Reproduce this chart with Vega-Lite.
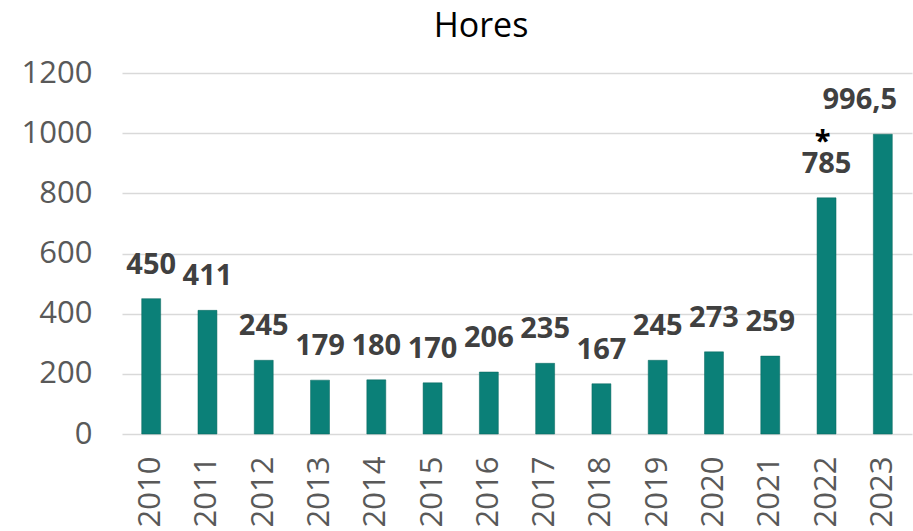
{
  "$schema": "https://vega.github.io/schema/vega-lite/v6.json",
  "width": 790,
  "height": 361,
  "autosize": {"type": "none"},
  "padding": {"left": 122, "right": 1, "top": 73, "bottom": 97},
  "background": "white",
  "title": {"text": "Hores", "font": "Open Sans", "fontSize": 34, "fontWeight": "normal", "color": "#000000", "offset": 13, "dx": -36},
  "data": {
    "values": [
      {"year": "2010", "hours": 450, "label": "450", "note": ""},
      {"year": "2011", "hours": 411, "label": "411", "note": ""},
      {"year": "2012", "hours": 245, "label": "245", "note": ""},
      {"year": "2013", "hours": 179, "label": "179", "note": ""},
      {"year": "2014", "hours": 180, "label": "180", "note": ""},
      {"year": "2015", "hours": 170, "label": "170", "note": ""},
      {"year": "2016", "hours": 206, "label": "206", "note": ""},
      {"year": "2017", "hours": 235, "label": "235", "note": ""},
      {"year": "2018", "hours": 167, "label": "167", "note": ""},
      {"year": "2019", "hours": 245, "label": "245", "note": ""},
      {"year": "2020", "hours": 273, "label": "273", "note": ""},
      {"year": "2021", "hours": 259, "label": "259", "note": ""},
      {"year": "2022", "hours": 785, "label": "785", "note": "*"},
      {"year": "2023", "hours": 996.5, "label": "996,5", "note": ""}
    ]
  },
  "encoding": {
    "x": {
      "field": "year", "type": "nominal", "sort": null,
      "scale": {"paddingInner": 0.663, "paddingOuter": 0.35},
      "axis": {"title": null, "labelAngle": -90, "labelAlign": "right", "labelBaseline": "middle", "labelFont": "Open Sans", "labelFontSize": 31, "labelColor": "#595959", "ticks": false, "domain": false, "labelPadding": 22}
    },
    "y": {
      "field": "hours", "type": "quantitative",
      "scale": {"domain": [0, 1200]},
      "axis": {"title": null, "values": [0, 200, 400, 600, 800, 1000, 1200], "format": "d", "labelFont": "Open Sans", "labelFontSize": 31, "labelColor": "#595959", "ticks": false, "domain": false, "gridColor": "#d9d9d9", "gridWidth": 1.5, "labelPadding": 30}
    }
  },
  "layer": [
    {"mark": {"type": "bar", "color": "#0b8078", "stroke": "#06645d", "strokeWidth": 0.5}},
    {"transform": [{"filter": "datum.year != '2023'"}],
     "mark": {"type": "text", "font": "Open Sans", "fontSize": 29, "fontWeight": "bold", "color": "#404040", "baseline": "alphabetic", "dy": -25},
     "encoding": {"text": {"field": "label"}}},
    {"transform": [{"filter": "datum.year == '2023'"}],
     "mark": {"type": "text", "font": "Open Sans", "fontSize": 29, "fontWeight": "bold", "color": "#404040", "baseline": "alphabetic", "dy": -25, "dx": -23},
     "encoding": {"text": {"field": "label"}}},
    {"mark": {"type": "text", "font": "Open Sans", "fontSize": 29, "fontWeight": "bold", "color": "#000000", "baseline": "alphabetic", "dy": -47, "dx": -4},
     "encoding": {"text": {"field": "note"}}}
  ],
  "config": {"view": {"stroke": null}}
}
